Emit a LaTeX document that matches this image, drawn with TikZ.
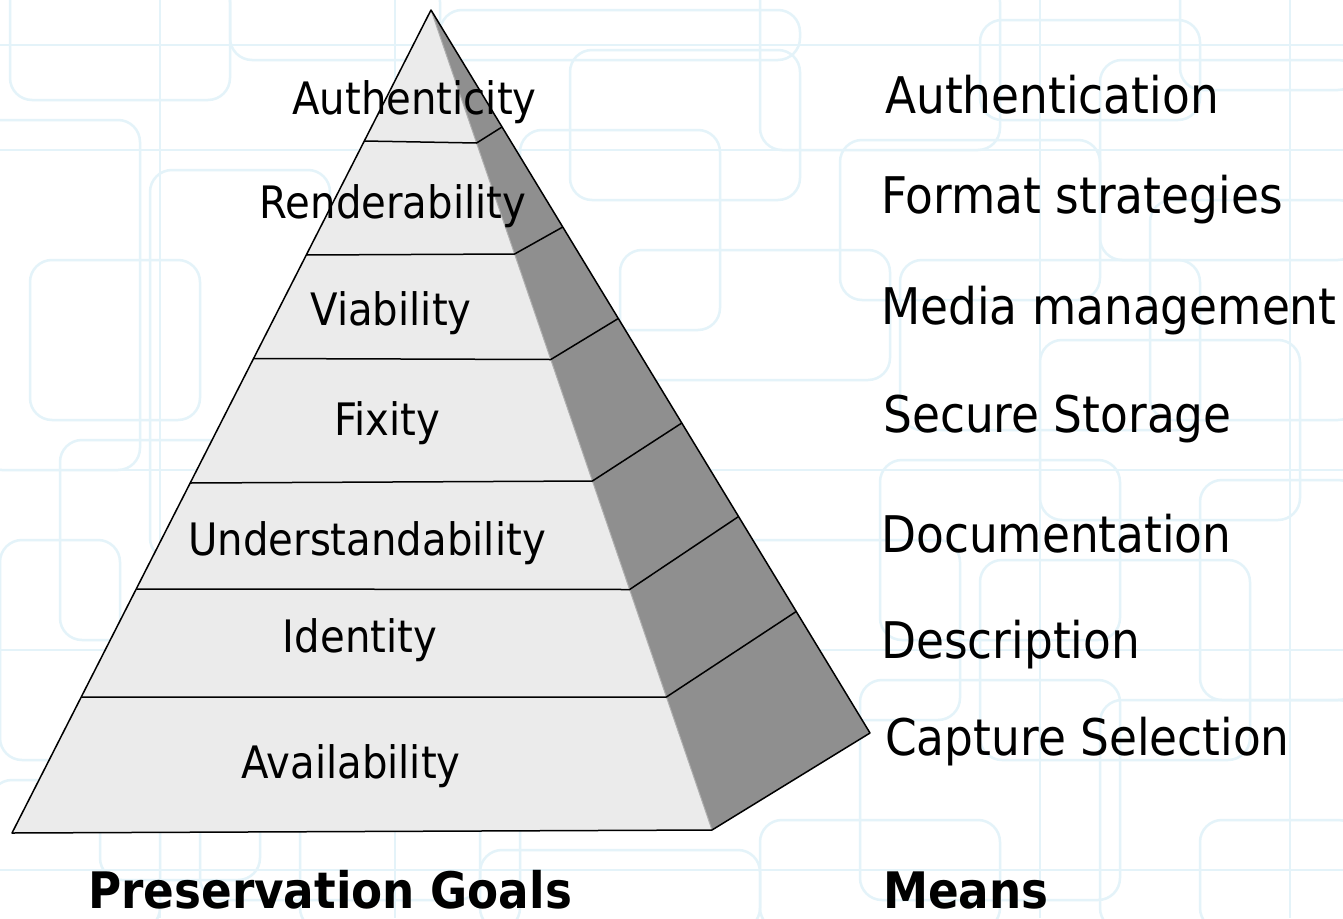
\documentclass[tikz,border=0pt]{standalone}
\usepackage{fontspec}
\setmainfont[FakeStretch=0.9]{DejaVu Sans}
\definecolor{bgline}{RGB}{228,243,249}
\definecolor{frontfill}{RGB}{235,235,235}
\definecolor{sidefill}{RGB}{143,143,143}
\definecolor{ridge}{RGB}{175,175,175}
\begin{document}
\begin{tikzpicture}[x=1pt,y=-1pt,
  bgbox/.style={draw=bgline,line width=2.5pt,rounded corners=22pt},
  edge/.style={draw=black,line width=1.5pt,line join=round},
  goal/.style={font=\fontsize{44.7}{50}\selectfont,anchor=base,inner sep=0pt},
  mean/.style={font=\fontsize{50.5}{56}\selectfont,anchor=base west,inner sep=0pt},
  heading/.style={font=\fontsize{50.3}{56}\selectfont\bfseries,anchor=base west,inner sep=0pt}]
\useasboundingbox (0,0) rectangle (1343,918);
\fill[white] (0,0) rectangle (1343,918);
% faint background pattern
\foreach \a/\b/\c/\d in {
 -20/120/140/470, 30/260/200/420, 150/170/330/560, 0/540/120/760,
 60/440/310/640, 200/600/480/900, -10/780/160/930, 100/700/260/880,
 440/10/800/60, 570/50/800/200, 520/130/720/330, 620/250/890/380,
 760/-20/1000/150, 840/140/1100/300, 980/20/1200/120, 1100/60/1360/260,
 1180/-20/1360/90, 900/260/1200/430, 1040/340/1300/520, 1150/200/1360/420,
 880/460/1120/640, 980/560/1250/760, 1200/480/1360/700, 720/540/960/720,
 860/680/1120/900, 1100/700/1360/930, 760/820/1000/930, 480/850/760/930,
 1200/820/1360/930, 300/760/520/930, 10/-20/230/100, 230/-20/440/60}
 {\draw[bgbox] (\a,\b) rectangle (\c,\d);}
\foreach \y in {45,150,470,650,870}{\draw[bgline,line width=2pt] (0,\y) -- (1343,\y);}
\foreach \x in {160,395,1040,1290}{\draw[bgline,line width=2pt] (\x,0) -- (\x,918);}
% pyramid geometry
\coordinate (apex) at (431,10);
\coordinate (bl) at (12,833);
\coordinate (br) at (712,830);
\coordinate (rc) at (870,733);
\coordinate (l1) at (364.3,141);   \coordinate (f1) at (476.6,143);   \coordinate (r1) at (502,127);
\coordinate (l2) at (306.3,255);   \coordinate (f2) at (514.6,254);   \coordinate (r2) at (562.8,227);
\coordinate (l3) at (253.6,358.5); \coordinate (f3) at (550.8,359.5); \coordinate (r3) at (618.3,318.5);
\coordinate (l4) at (190.2,483);   \coordinate (f4) at (592.4,481);   \coordinate (r4) at (681.8,423);
\coordinate (l5) at (136.3,589);   \coordinate (f5) at (629.6,589.5); \coordinate (r5) at (738.6,516.5);
\coordinate (l6) at (81.3,697);    \coordinate (f6) at (666.4,697);   \coordinate (r6) at (796.2,611.5);
% faces
\fill[frontfill] (apex) -- (bl) -- (br) -- cycle;
\fill[sidefill] (apex) -- (rc) -- (br) -- cycle;
\draw[ridge,line width=1pt] (apex) -- (br);
% division lines
\foreach \i in {1,...,6}{
  \draw[edge] (l\i) -- (f\i) -- (r\i);
}
% outline
\draw[edge] (apex) -- (bl) -- (br) -- (rc) -- cycle;
% goal labels
\node[goal] (authenticity) at (414.5,114) {Authenticity};
\node[goal] (renderability) at (393,218) {Renderability};
\node[goal] (viability) at (391,325) {Viability};
\node[goal] (fixity) at (387.5,435) {Fixity};
\node[goal] (understandability) at (367,555) {Understandability};
\node[goal] (identity) at (360,652) {Identity};
\node[goal] (availability) at (351,778) {Availability};
% means labels
\node[mean] (authentication) at (885,113) {Authentication};
\node[mean] (format) at (881,213) {Format strategies};
\node[mean] (media) at (881,324) {Media management};
\node[mean] (storage) at (883,432) {Secure Storage};
\node[mean] (documentation) at (881,552) {Documentation};
\node[mean] (description) at (881,658) {Description};
\node[mean] (capture) at (885,755) {Capture Selection};
% headings
\node[heading] (goals) at (88,908) {Preservation Goals};
\node[heading] (means) at (883,908) {Means};
\end{tikzpicture}
\end{document}
